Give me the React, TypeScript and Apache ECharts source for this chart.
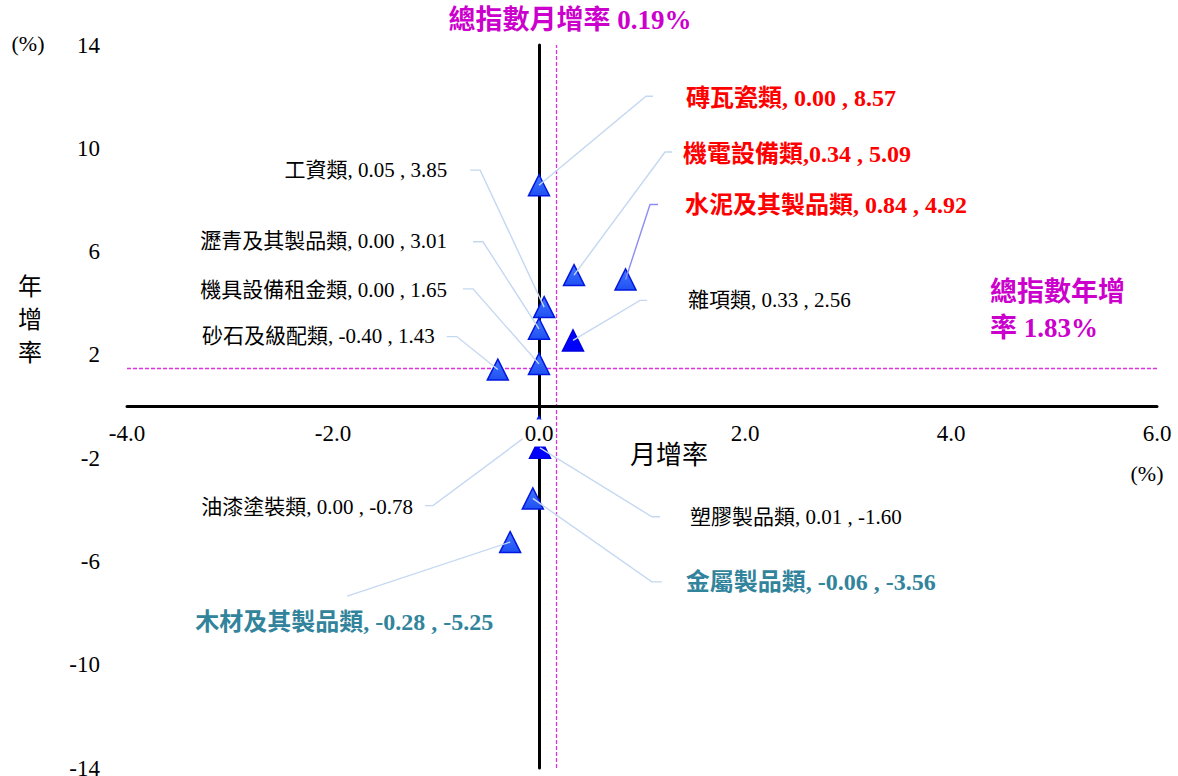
import React, { useEffect, useRef } from 'react';
import * as echarts from 'echarts';

// ---- data ----
const categories = [
  '磚瓦瓷類', '機電設備類', '水泥及其製品類', '工資類', '瀝青及其製品類', '機具設備租金類',
  '砂石及級配類', '雜項類', '油漆塗裝類', '塑膠製品類', '金屬製品類', '木材及其製品類',
];
const monthlyChange = [0.0, 0.34, 0.84, 0.05, 0.0, 0.0, -0.4, 0.33, 0.0, 0.01, -0.06, -0.28];
const yearlyChange = [8.57, 5.09, 4.92, 3.85, 3.01, 1.65, 1.43, 2.56, -0.78, -1.6, -3.56, -5.25];

const indexMonthly = 0.19; // 總指數月增率 (text)
const indexYearly = 1.83; // 總指數年增率 (text)
const refLineMonthly = 0.17; // dashed line position as drawn in the picture
const refLineYearly = 1.49;

const xMin = -4, xMax = 6, xStep = 2;
const yMin = -14, yMax = 14, yStep = 4;

// ---- layout ----
const GRID = { left: 127, right: 21, top: 45, bottom: 8 };
const CHART_H = 776;
const gridH = CHART_H - GRID.top - GRID.bottom;
const xAxisOffset = -gridH * ((0 - yMin) / (yMax - yMin)); // puts the x axis on y = 0

type Lay = {
  ex: number; ey: number; hx: number; tx: number; ty: number;
  align: 'left' | 'right'; tone: 'red' | 'teal' | 'black'; sep: string; lineColor?: string; dark?: boolean;
};
const labelLayout: Lay[] = [
  { ex: 107, ey: -89, hx: 7, tx: 147, ty: -87, align: 'left', tone: 'red', sep: ', ' },
  { ex: 91, ey: -123, hx: 7, tx: 109, ty: -121, align: 'left', tone: 'red', sep: ',' },
  { ex: 24.5, ey: -75, hx: 8, tx: 59.5, ty: -74, align: 'left', tone: 'red', sep: ', ', lineColor: '#8C8CF2' },
  { ex: -64, ey: -137, hx: -10, tx: -97, ty: -137, align: 'right', tone: 'black', sep: ', ' },
  { ex: -56, ey: -87, hx: -10, tx: -92, ty: -88, align: 'right', tone: 'black', sep: ', ' },
  { ex: -66, ey: -75, hx: -10, tx: -92, ty: -74, align: 'right', tone: 'black', sep: ', ' },
  { ex: -41, ey: -33, hx: -10, tx: -63, ty: -34, align: 'right', tone: 'black', sep: ', ' },
  { ex: 67, ey: -40, hx: 7, tx: 115, ty: -40, align: 'left', tone: 'black', sep: ', ', dark: true },
  { ex: -106, ey: 79, hx: -8, tx: -126, ty: 80, align: 'right', tone: 'black', sep: ', ' },
  { ex: 112, ey: 69, hx: 8, tx: 150, ty: 69, align: 'left', tone: 'black', sep: ', ', dark: true },
  { ex: 119, ey: 83.5, hx: 10, tx: 153, ty: 83.5, align: 'left', tone: 'teal', sep: ', ' },
  { ex: -163, ey: 54, hx: 0, tx: -315, ty: 80, align: 'left', tone: 'teal', sep: ', ' },
];

const toneColor: Record<string, string> = { red: '#FF0000', teal: '#31849B', black: '#000000' };
const MAGENTA = '#CC00CC';
const SERIF = "'Liberation Serif', 'Times New Roman', 'Noto Sans CJK TC', serif";

export default function App() {
  const ref = useRef<HTMLDivElement>(null);

  useEffect(() => {
    if (!ref.current) return;
    const chart = echarts.init(ref.current, undefined, { renderer: 'svg' });

    const points = categories.map((_, i) => [monthlyChange[i], yearlyChange[i]]);

    const markerFill = new echarts.graphic.LinearGradient(0, 0, 0, 1, [
      { offset: 0, color: '#4477FF' },
      { offset: 1, color: '#1F50F2' },
    ]);

    const option: any = {
      animation: false,
      backgroundColor: '#ffffff',
      textStyle: { fontFamily: SERIF },
      grid: { ...GRID, containLabel: false, outerBoundsMode: 'none' },
      xAxis: {
        type: 'value',
        min: xMin,
        max: xMax,
        interval: xStep,
        z: 5,
        position: 'bottom',
        offset: xAxisOffset,
        axisLine: { show: true, onZero: false, lineStyle: { color: '#000', width: 3 } },
        axisTick: { show: false },
        splitLine: { show: false },
        axisLabel: {
          color: '#000',
          fontSize: 23,
          fontFamily: SERIF,
          margin: 13,
          padding: [2, 2, 2, 2],
          backgroundColor: '#ffffff',
          formatter: (v: number) => v.toFixed(1),
        },
      },
      yAxis: [
        {
          type: 'value',
          min: yMin,
          max: yMax,
          interval: yStep,
          position: 'left',
          axisLine: { show: true, onZero: true, lineStyle: { color: '#000', width: 3 } },
          axisTick: { show: false },
          splitLine: { show: false },
          axisLabel: { show: false },
        },
        {
          type: 'value',
          min: yMin,
          max: yMax,
          interval: yStep,
          position: 'left',
          axisLine: { show: false, onZero: false },
          axisTick: { show: false },
          splitLine: { show: false },
          axisLabel: {
            color: '#000',
            fontSize: 23,
            fontFamily: SERIF,
            margin: 27,
            formatter: (v: number) => String(v),
          },
        },
      ],
      series: [
        {
          type: 'line',
          data: [],
          z: 1,
          silent: true,
          markLine: {
            z: 1,
            silent: true,
            symbol: 'none',
            label: { show: false },
            lineStyle: { color: '#E030E0', type: [4, 2], width: 1.3 },
            data: [{ xAxis: refLineMonthly }, { yAxis: refLineYearly }],
          },
        },
        {
          type: 'scatter',
          z: 2,
          data: points.map((p, i) => ({
            value: p,
            itemStyle: labelLayout[i].dark
              ? { color: '#0000FF', borderColor: '#0000E0', borderWidth: 1.5, opacity: 1 }
              : { color: markerFill, borderColor: '#0018E0', borderWidth: 1.5, opacity: 1 },
          })),
          symbol: 'triangle',
          symbolSize: 21,
        },
        {
          type: 'custom',
          z: 3,
          silent: true,
          data: points,
          renderItem: (params: any, api: any) => {
            const i = params.dataIndex;
            const L = labelLayout[i];
            const p = api.coord([api.value(0), api.value(1)]);
            const ex = p[0] + L.ex;
            const ey = p[1] + L.ey;
            const bold = L.tone !== 'black';
            const text = `${categories[i]}${L.sep}${monthlyChange[i].toFixed(2)} , ${yearlyChange[i].toFixed(2)}`;
            return {
              type: 'group',
              children: [
                {
                  type: 'polyline',
                  shape: { points: [[p[0], p[1]], [ex, ey], [ex + L.hx, ey]] },
                  style: { stroke: L.lineColor || '#C5D8F2', lineWidth: 1.4, fill: null },
                },
                {
                  type: 'text',
                  x: p[0] + L.tx,
                  y: p[1] + L.ty,
                  style: {
                    text,
                    fill: toneColor[L.tone],
                    fontSize: bold ? 24 : 21,
                    fontWeight: bold ? 'bold' : 'normal',
                    fontFamily: SERIF,
                    align: L.align,
                    verticalAlign: 'middle',
                  },
                },
              ],
            };
          },
        },
      ],
      graphic: [
        {
          type: 'text',
          x: 570,
          y: 20,
          style: {
            text: `總指數月增率 ${indexMonthly.toFixed(2)}%`,
            fill: MAGENTA,
            fontSize: 27,
            fontWeight: 'bold',
            fontFamily: SERIF,
            align: 'center',
            verticalAlign: 'middle',
          },
        },
        {
          type: 'text',
          x: 990,
          y: 274,
          style: {
            text: `總指數年增\n率 ${indexYearly.toFixed(2)}%`,
            fill: MAGENTA,
            fontSize: 27,
            lineHeight: 36,
            fontWeight: 'bold',
            fontFamily: SERIF,
            align: 'left',
            verticalAlign: 'top',
          },
        },
        {
          type: 'text',
          x: 28,
          y: 43,
          style: { text: '(%)', fill: '#000', fontSize: 22, fontFamily: SERIF, align: 'center', verticalAlign: 'middle' },
        },
        {
          type: 'text',
          x: 1147,
          y: 473,
          style: { text: '(%)', fill: '#000', fontSize: 22, fontFamily: SERIF, align: 'center', verticalAlign: 'middle' },
        },
        {
          type: 'text',
          x: 669,
          y: 455,
          style: { text: '月增率', fill: '#000', fontSize: 26, fontFamily: SERIF, align: 'center', verticalAlign: 'middle' },
        },
        {
          type: 'text',
          x: 30,
          y: 270.5,
          style: {
            text: '年\n增\n率',
            fill: '#000',
            fontSize: 24,
            lineHeight: 33,
            fontFamily: SERIF,
            align: 'center',
            verticalAlign: 'top',
          },
        },
      ],
    };

    chart.setOption(option);
    return () => chart.dispose();
  }, []);

  return (
    <div
      ref={ref}
      style={{ position: 'absolute', left: 0, top: 0, width: 1178, height: CHART_H, background: '#fff' }}
    />
  );
}
